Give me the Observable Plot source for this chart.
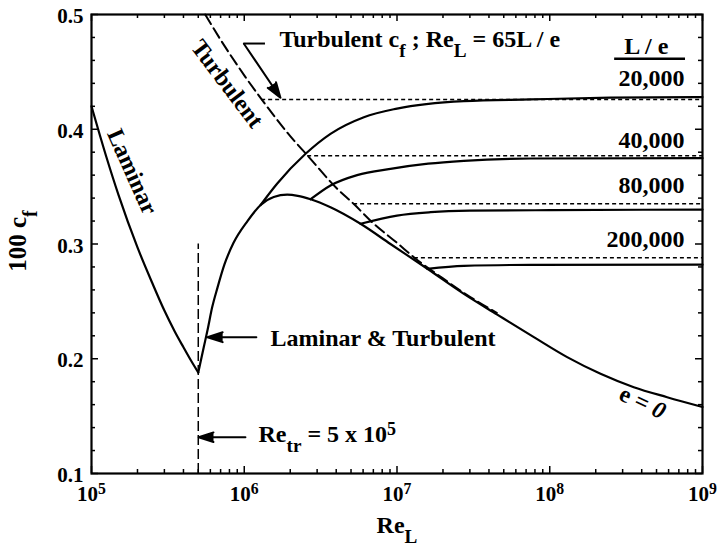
<!DOCTYPE html>
<html>
<head>
<meta charset="utf-8">
<script src="https://cdn.jsdelivr.net/npm/d3@7"></script>
<script src="https://cdn.jsdelivr.net/npm/@observablehq/plot@0.6"></script>
<style>
  html, body { margin: 0; padding: 0; background: #fff; }
  #chart { width: 717px; height: 548px; }
</style>
</head>
<body>
<div id="chart"></div>
<script>
// Skin-friction coefficient (100 c_f) of a flat plate versus length Reynolds number Re_L

// Laminar flow up to transition
const laminarRe = [1.0e5, 1.25e5, 1.5e5, 2.0e5, 2.5e5, 3.0e5, 3.5e5, 4.0e5, 4.5e5, 5.0e5];
const laminarCf = [0.420, 0.376, 0.343, 0.297, 0.266, 0.242, 0.224, 0.210, 0.198, 0.188];

// Laminar & turbulent, smooth plate (e = 0)
const smoothRe = [5.0e5, 5.43e5, 5.75e5, 6.17e5, 6.68e5, 7.41e5, 8.51e5, 1.05e6, 1.28e6, 1.56e6,
                  1.91e6, 2.24e6, 2.72e6, 3.67e6, 5.77e6, 9.06e6, 1.58e7, 2.74e7, 4.53e7, 7.87e7,
                  1.30e8, 2.15e8, 3.55e8, 5.87e8, 1.0e9];
const smoothCf = [0.188, 0.210, 0.225, 0.245, 0.262, 0.282, 0.301, 0.320, 0.334, 0.341,
                  0.343, 0.342, 0.339, 0.332, 0.3176, 0.300, 0.2784, 0.2566, 0.2385, 0.2188,
                  0.2014, 0.1869, 0.1752, 0.1665, 0.158];

// Fully turbulent, smooth plate (dashed)
const turbRe = [5.55e5, 7.0e5, 1.0e6, 1.3e6, 2.0e6, 2.6e6, 4.0e6, 5.2e6, 7.0e6, 1.0e7, 1.3e7, 2.0e7, 3.0e7, 4.5e7];
const turbCf = [0.500, 0.478, 0.447, 0.426, 0.394, 0.377, 0.349, 0.335, 0.318, 0.301, 0.288, 0.270, 0.254, 0.240];

// Rough plates, one curve per relative roughness L / e
const rough20kRe = [1.28e6, 1.64e6, 2.52e6, 3.67e6, 6.07e6, 1.0e7, 2.74e7, 7.5e7, 2.5e8, 1.0e9];
const rough20kCf = [0.334, 0.3525, 0.3786, 0.396, 0.4105, 0.418, 0.4245, 0.426, 0.4275, 0.428];
const rough40kRe = [2.72e6, 3.67e6, 5.48e6, 9.06e6, 1.6e7, 2.74e7, 7.5e7, 1.0e9];
const rough40kCf = [0.339, 0.351, 0.360, 0.3655, 0.370, 0.3725, 0.3745, 0.3748];
const rough80kRe = [5.77e6, 1.0e7, 1.66e7, 3.0e7, 1.0e8, 1.0e9];
const rough80kCf = [0.3176, 0.3248, 0.3277, 0.329, 0.3295, 0.330];
const rough200kRe = [1.58e7, 2.74e7, 7.5e7, 1.0e9];
const rough200kCf = [0.2784, 0.281, 0.2818, 0.282];

// Fully rough limits, reached at Re_L = 65 L / e
const roughLabel = ["20,000", "40,000", "80,000", "200,000"];
const roughOnsetRe = [1.3e6, 2.6e6, 5.2e6, 1.3e7];
const roughLimitCf = [0.426, 0.377, 0.335, 0.288];
const roughLabelCf = [0.4381, 0.3835, 0.3444, 0.2972];
const roughLabelRe = 7.62e8;

// Transition Reynolds number
const transitionRe = 5.0e5;
const transitionTopCf = 0.3;

// Axis ticks
const xMajor = [1e5, 1e6, 1e7, 1e8, 1e9];
const xMinor = [1e5, 1e6, 1e7, 1e8].flatMap(d => d3.range(2, 10).map(k => k * d));
const yMajor = [0.1, 0.2, 0.3, 0.4, 0.5];
const yMinor = d3.range(12, 50, 2).filter(k => k % 10 !== 0).map(k => k / 100);
const xTickLabel = d => `10^{${Math.round(Math.log10(d))}}`;
const yTickLabel = d3.format(".1f");

// Curve labels written along the curves
const noteText = ["Laminar", "Turbulent", "e = *{0}"];
const noteRe = [1.85e5, 7.73e5, 4.05e8];
const noteCf = [0.363, 0.4396, 0.1619];
const noteAngle = [66, 53, 25];

// Callouts with arrows
const calloutText = ["Turbulent c_{f} ; Re_{L} = 65L / e", "Laminar & Turbulent", "Re_{tr} = 5 x 10^{5}"];
const calloutRe = [1.70e6, 1.486e6, 1.24e6];
const calloutCf = [0.4721, 0.2109, 0.1273];
const arrowFromRe = [0.995e6, 1.2e6, 1.018e6];
const arrowFromCf = [0.4745, 0.2188, 0.1316];
const arrowToRe = [1.726e6, 5.74e5, 5.03e5];
const arrowToCf = [0.4275, 0.2188, 0.1316];
const leaderRe = [0.995e6, 1.377e6];
const leaderCf = 0.4747;

// Column header for the roughness labels
const headerText = "L / e";
const headerRe = 4.29e8;
const headerCf = 0.466;
const headerRuleRe = [2.66e8, 7.74e8];
const headerRuleCf = 0.4614;

// Build tables for the line marks
const rows = (name, xs, ys) => xs.map((x, i) => ({series: name, Re: x, cf: ys[i]}));
const solidRows = [
  ...rows("laminar", laminarRe, laminarCf),
  ...rows("smooth", smoothRe, smoothCf),
  ...rows("20000", rough20kRe, rough20kCf),
  ...rows("40000", rough40kRe, rough40kCf),
  ...rows("80000", rough80kRe, rough80kCf),
  ...rows("200000", rough200kRe, rough200kCf)
];
const turbRows = rows("turbulent", turbRe, turbCf);
const limitRows = roughLabel.map((label, i) => ({label, onset: roughOnsetRe[i], cf: roughLimitCf[i], labelCf: roughLabelCf[i]}));
const arrowRows = arrowFromRe.map((x, i) => ({x1: x, y1: arrowFromCf[i], x2: arrowToRe[i], y2: arrowToCf[i]}));

const W = 717, H = 548, mL = 91, mR = 15, mT = 14, mB = 75;
const frameW = W - mL - mR, frameH = H - mT - mB;
const majorLen = 7, minorLen = 4;

const plot = Plot.plot({
  width: W, height: H,
  marginLeft: mL, marginRight: mR, marginTop: mT, marginBottom: mB,
  x: {type: "log", domain: [1e5, 1e9], axis: null},
  y: {domain: [0.1, 0.5], axis: null},
  style: {
    fontFamily: "'Liberation Serif', 'Times New Roman', serif",
    fontWeight: "bold",
    fontSize: "21px",
    color: "black",
    background: "white"
  },
  marks: [
    // inward ticks on all four sides
    Plot.tickX(xMajor, {insetTop: frameH - majorLen, strokeWidth: 1.5}),
    Plot.tickX(xMinor, {insetTop: frameH - minorLen, strokeWidth: 1.5}),
    Plot.tickX(xMajor, {insetBottom: frameH - majorLen, strokeWidth: 1.5}),
    Plot.tickX(xMinor, {insetBottom: frameH - minorLen, strokeWidth: 1.5}),
    Plot.tickY(yMajor, {insetRight: frameW - majorLen, strokeWidth: 1.5}),
    Plot.tickY(yMinor, {insetRight: frameW - minorLen, strokeWidth: 1.5}),
    Plot.tickY(yMajor, {insetLeft: frameW - majorLen, strokeWidth: 1.5}),
    Plot.tickY(yMinor, {insetLeft: frameW - minorLen, strokeWidth: 1.5}),

    // tick labels
    Plot.text(xMajor, {x: d => d, text: xTickLabel, frameAnchor: "bottom", lineAnchor: "bottom", dy: 27}),
    Plot.text(yMajor, {y: d => d, text: yTickLabel, frameAnchor: "left", textAnchor: "end", dx: -8, dy: 2}),

    // fully rough limits
    Plot.ruleY(limitRows, {y: "cf", x1: "onset", x2: 1e9, strokeWidth: 1.5, strokeDasharray: "4,3"}),
    // transition Reynolds number
    Plot.ruleX([transitionRe], {x: d => d, y1: 0.1, y2: transitionTopCf, strokeWidth: 1.5, strokeDasharray: "10,4"}),
    // fully turbulent smooth plate
    Plot.line(turbRows, {x: "Re", y: "cf", curve: "monotone-x", strokeWidth: 2, strokeDasharray: "11,5"}),
    // laminar, smooth and rough curves
    Plot.line(solidRows, {x: "Re", y: "cf", z: "series", curve: "monotone-x", strokeWidth: 2.2}),

    Plot.frame({strokeWidth: 2.2}),

    // curve labels
    Plot.text(noteText, {x: noteRe, y: noteCf, rotate: noteAngle, text: d => d, fontSize: 24}),

    // callouts
    Plot.ruleY([leaderCf], {y: d => d, x1: leaderRe[0], x2: leaderRe[1], strokeWidth: 2}),
    Plot.arrow(arrowRows, {x1: "x1", y1: "y1", x2: "x2", y2: "y2", stroke: "black", fill: "black", strokeWidth: 2, headLength: 12, headAngle: 36}),
    Plot.text(calloutText, {x: calloutRe, y: calloutCf, text: d => d, textAnchor: "start", lineAnchor: "bottom", fontSize: 24}),

    // roughness labels
    Plot.text([headerText], {x: [headerRe], y: [headerCf], text: d => d, lineAnchor: "bottom", fontSize: 24}),
    Plot.ruleY([headerRuleCf], {y: d => d, x1: headerRuleRe[0], x2: headerRuleRe[1], strokeWidth: 2.6}),
    Plot.text(limitRows, {x: roughLabelRe, y: "labelCf", text: "label", textAnchor: "end", lineAnchor: "bottom", fontSize: 24}),

    // axis titles
    Plot.text(["Re_{L}"], {text: d => d, frameAnchor: "bottom", textAnchor: "middle", lineAnchor: "bottom", dy: 59, fontSize: 24}),
    Plot.text(["100 c_{f}"], {text: d => d, frameAnchor: "left", textAnchor: "middle", rotate: -90, lineAnchor: "bottom", dx: -65.5, dy: -3, fontSize: 25})
  ]
});

document.getElementById("chart").appendChild(plot);

// Turn _{..}, ^{..} and *{..} markup into subscript, superscript and italic spans
function richify(svg) {
  const NS = "http://www.w3.org/2000/svg";
  svg.querySelectorAll("text").forEach(t => {
    const s = t.textContent;
    if (!/[_^*]\{/.test(s)) return;
    const fs = parseFloat(getComputedStyle(t).fontSize);
    while (t.firstChild) t.removeChild(t.firstChild);
    const re = /([_^*])\{([^}]*)\}|([^_^*]+)/g;
    let level = 0, m;
    while ((m = re.exec(s))) {
      const sp = document.createElementNS(NS, "tspan");
      let next = 0;
      if (m[1] === "_") { next = 0.42 * fs; sp.setAttribute("font-size", 0.8 * fs); }
      else if (m[1] === "^") { next = -0.3 * fs; sp.setAttribute("font-size", 0.75 * fs); }
      else if (m[1] === "*") { sp.setAttribute("font-style", "italic"); }
      sp.textContent = m[1] ? m[2] : m[3];
      if (next !== level) sp.setAttribute("dy", next - level);
      level = next;
      t.appendChild(sp);
    }
  });
}
richify(plot);
</script>
</body>
</html>
